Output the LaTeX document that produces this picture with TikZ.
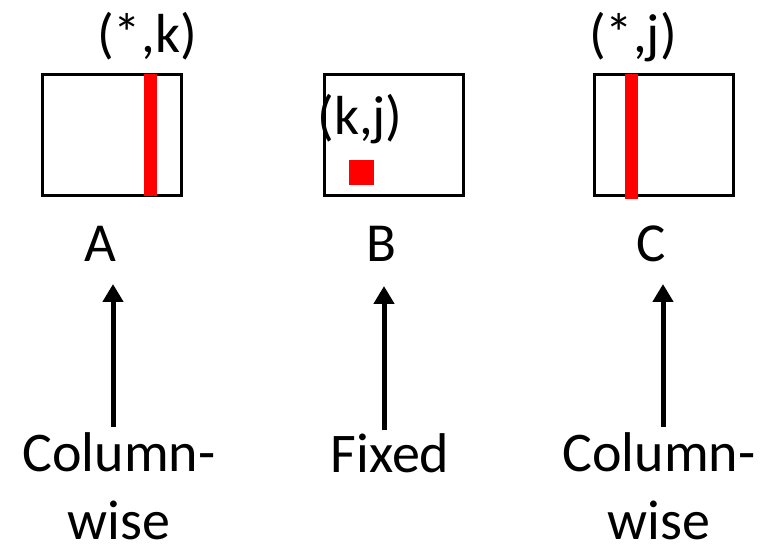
\documentclass[tikz,border=0pt]{standalone}
\usepackage{fontspec}
\setmainfont{Carlito}
\usetikzlibrary{arrows.meta}

\begin{document}
\begin{tikzpicture}[x=1pt, y=-1pt,
  matbox/.style={draw=black, line width=3pt, inner sep=0pt, minimum width=139pt, minimum height=121pt},
  lbl/.style={inner sep=0pt, anchor=base, font=\fontsize{55}{66}\selectfont},
  foot/.style={inner sep=0pt, anchor=base, align=center, text depth=0pt, font=\fontsize{56}{68}\selectfont},
  uparrow/.style={line width=5pt, -{Triangle[width=20pt,length=18pt]}}]
  %%%%% START %%%%%
  \useasboundingbox (0,0) rectangle (777,545);

  % matrices
  \node[matbox] (boxA) at (112,135) {};
  \node[matbox] (boxB) at (393.5,135) {};
  \node[matbox] (boxC) at (663.5,135) {};

  % marked parts
  \fill[red] (144,74) rectangle (157,196);
  \fill[red] (349,160) rectangle (374,185);
  \fill[red] (625,74) rectangle (638,199);

  % index labels
  \node[lbl] (idxA) at (147,53) {(*,k)};
  \node[lbl] (idxB) at (360,135) {(k,j)};
  \node[lbl] (idxC) at (633,53) {(*,j)};

  % matrix names
  \node[lbl] (labA) at (100,262) {A};
  \node[lbl] (labB) at (381,262) {B};
  \node[lbl] (labC) at (651,262) {C};

  % access patterns (base = last line)
  \node[foot] (colA) at (119,539) {Column-\\wise};
  \node[foot] (fixB) at (390,472) {Fixed};
  \node[foot] (colC) at (659,539) {Column-\\wise};

  \coordinate (tailA) at (113,427);
  \coordinate (tipA) at (113,284);
  \coordinate (tailB) at (384,430);
  \coordinate (tipB) at (384,286);
  \coordinate (tailC) at (663,427);
  \coordinate (tipC) at (663,284);
  \draw[uparrow] (tailA) -- (tipA);
  \draw[uparrow] (tailB) -- (tipB);
  \draw[uparrow] (tailC) -- (tipC);
  %%%%% END %%%%%
\end{tikzpicture}
\end{document}
